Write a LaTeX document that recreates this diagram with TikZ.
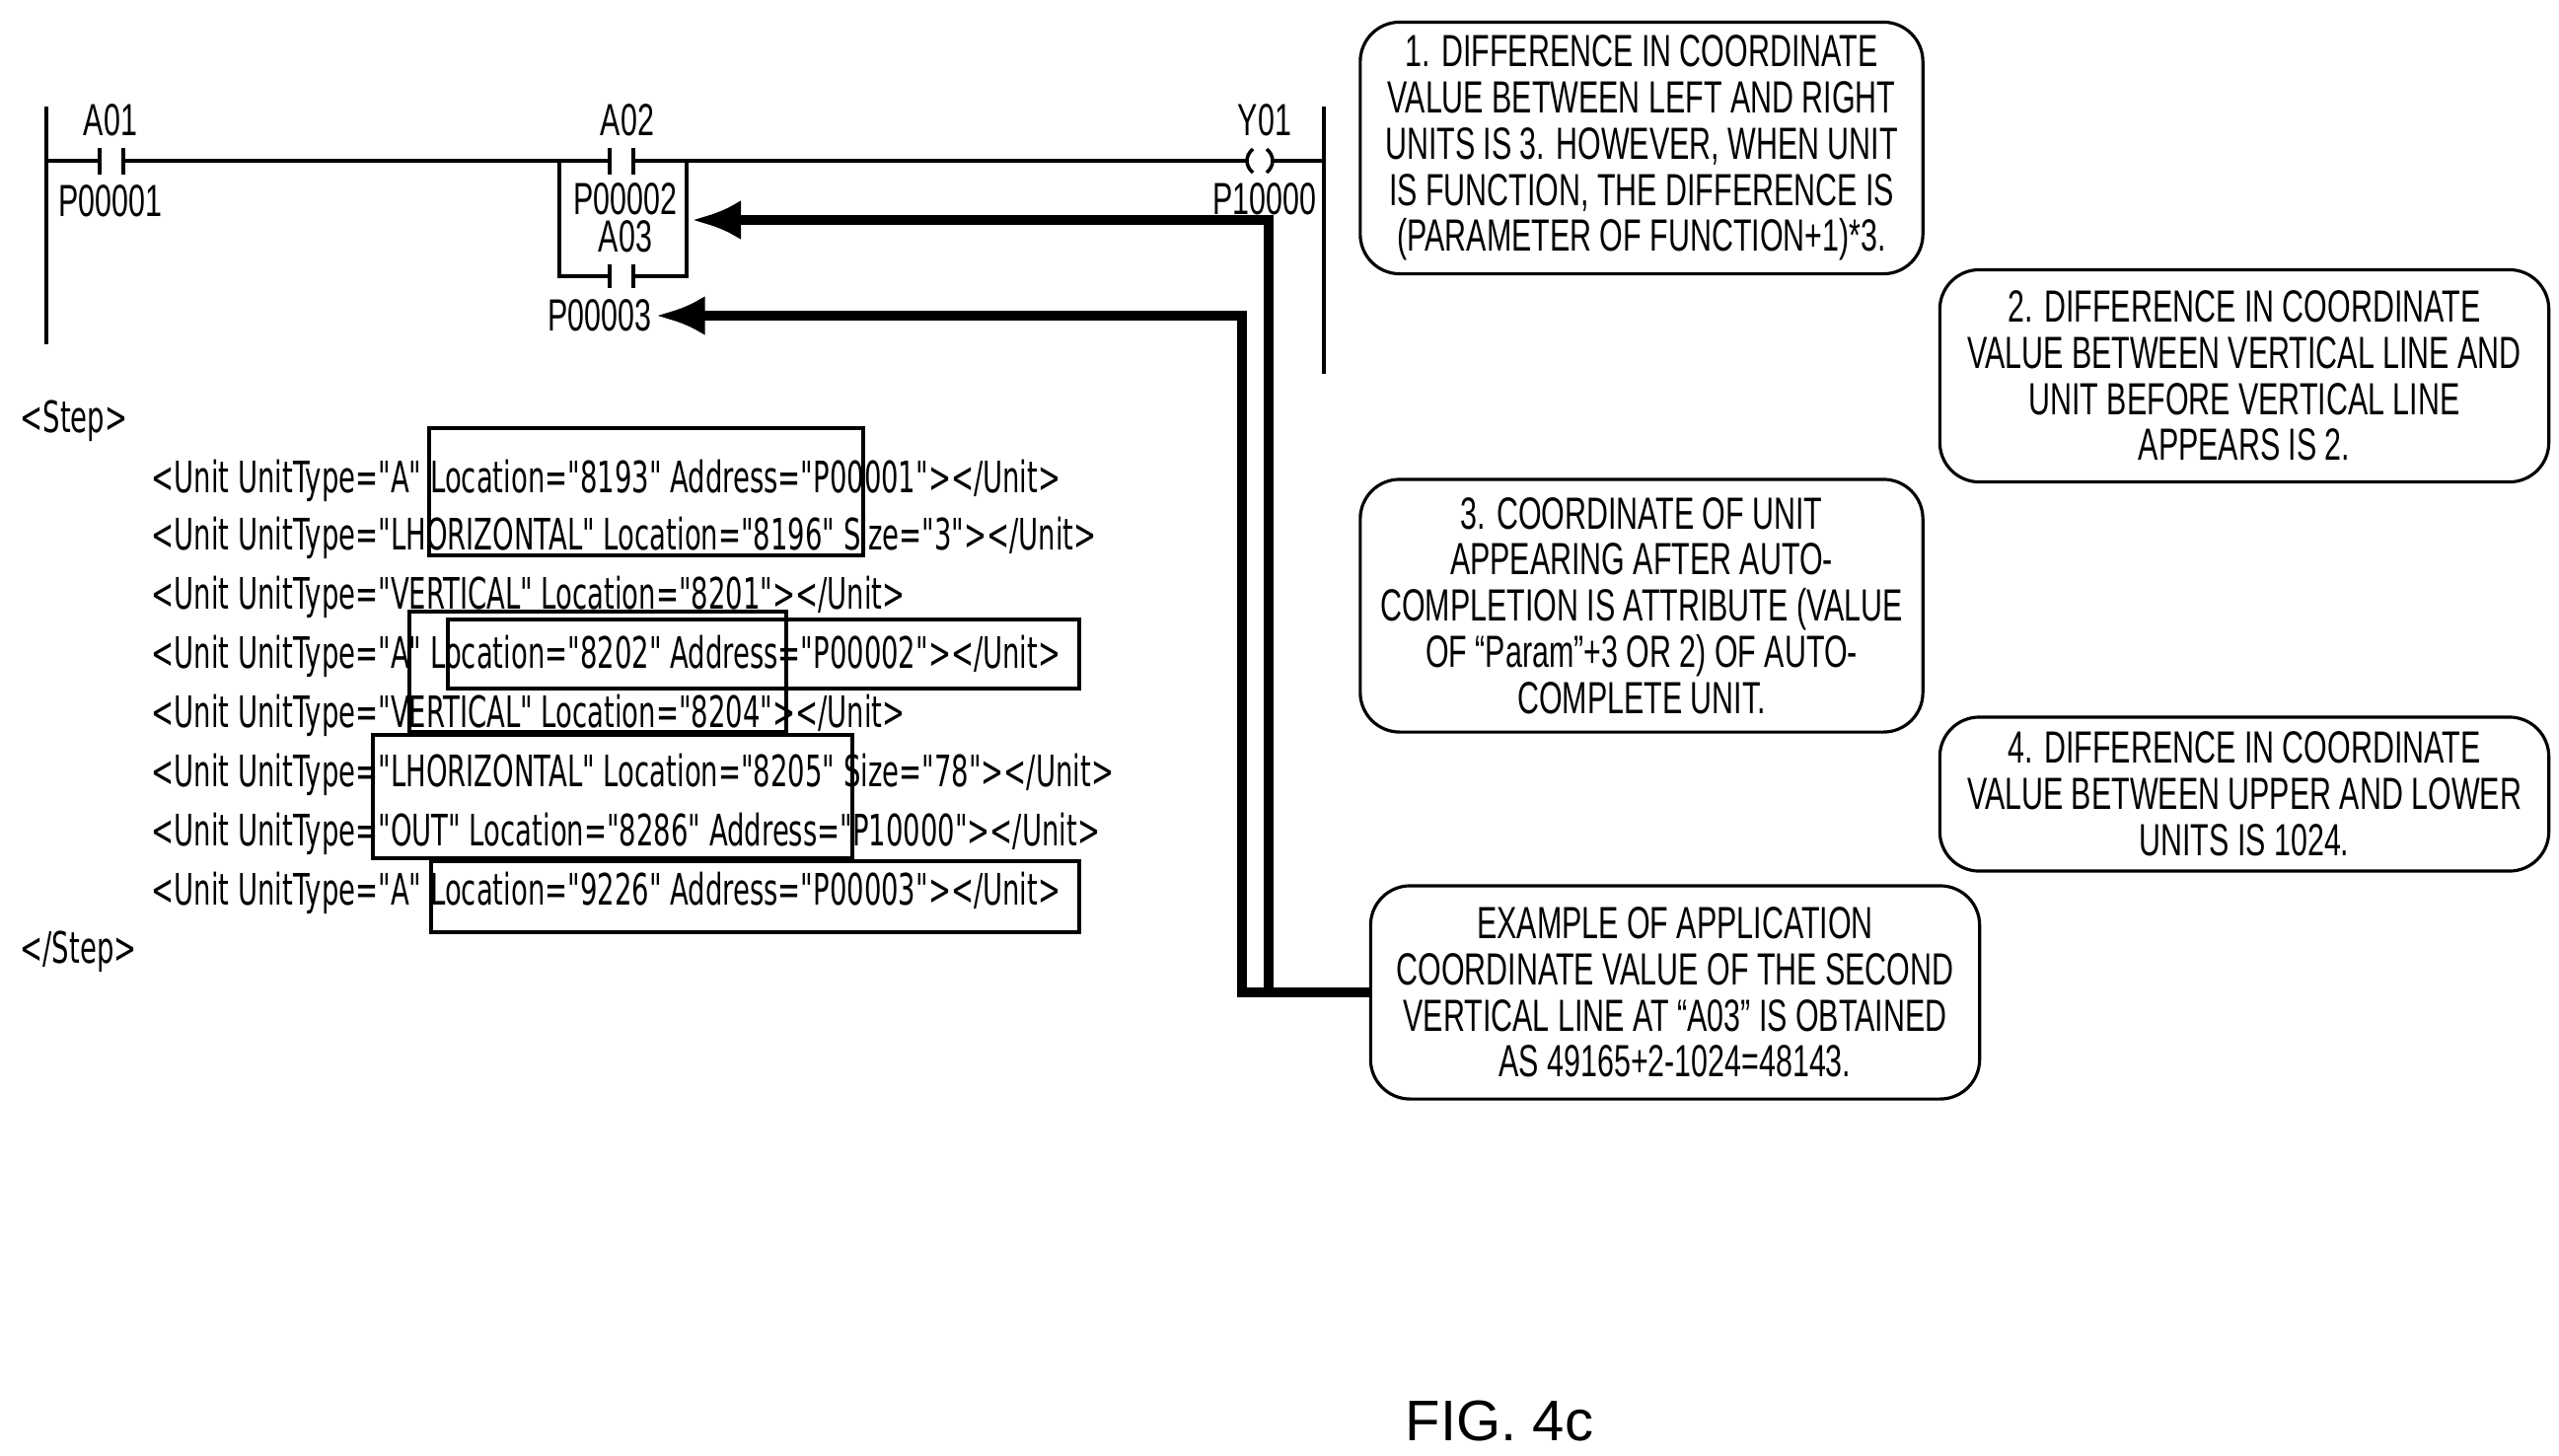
\documentclass[tikz,border=0pt]{standalone}
\usepackage{fontspec}
\setmainfont{Liberation Sans}
\newfontfamily\narrowfont[FakeStretch=0.665]{Liberation Sans}
\newfontfamily\codefont[FakeStretch=0.625]{DejaVu Sans}
\usetikzlibrary{arrows.meta}

\begin{document}
\begin{tikzpicture}[x=0.01cm,y=-0.01cm]
    \tikzstyle{note} = [draw, rectangle, rounded corners=4mm, line width=0.9pt, align=center, inner sep=2pt, font=\narrowfont\fontsize{13}{13.3}\selectfont];
    \tikzstyle{lbl} = [inner sep=1pt, font=\narrowfont\fontsize{13}{14}\selectfont];
    \tikzstyle{code} = [anchor=west, inner sep=0pt, font=\codefont\fontsize{12.5}{14}\selectfont];
    \tikzstyle{hilite} = [draw, line width=1.3pt];
    \tikzstyle{line} = [draw, line width=3pt, -{Latex[length=5mm,width=4mm]}];
    \useasboundingbox (0,0) rectangle (2594,1475);
    % rails and rung
    \draw[line width=1pt] (47,108) -- (47,349);
    \draw[line width=1pt] (1342,108) -- (1342,379);
    \draw[line width=1pt] (47,163) -- (101,163) (125,163) -- (618,163) (642,163) -- (1266,163) (1288,163) -- (1342,163);
    \draw[line width=1pt] (101,150) -- (101,177) (125,150) -- (125,177);
    \draw[line width=1pt] (618,150) -- (618,177) (642,150) -- (642,177);
    \draw[line width=1pt] (1270,151) .. controls (1262,158) and (1262,168) .. (1270,175);
    \draw[line width=1pt] (1284,151) .. controls (1292,158) and (1292,168) .. (1284,175);
    % parallel branch
    \draw[line width=1pt] (567,163) -- (567,280) -- (618,280) (642,280) -- (696,280) -- (696,163);
    \draw[line width=1pt] (618,268) -- (618,292) (642,268) -- (642,292);
    \node[lbl] (a01) at (112,122) {A01};
    \node[lbl] (p1) at (112,204) {P00001};
    \node[lbl] (a02) at (636,122) {A02};
    \node[lbl] (p2) at (634,202) {P00002};
    \node[lbl] (a03) at (634,240) {A03};
    \node[lbl] (p3) at (608,320) {P00003};
    \node[lbl] (y01) at (1282,122) {Y01};
    \node[lbl] (p10) at (1282,202) {P10000};
    \coordinate (t2) at (701,223);
    % notes
    \node[note, minimum width=5.7cm, minimum height=2.55cm] (n1) at (1664,150) {1. DIFFERENCE IN COORDINATE\\VALUE BETWEEN LEFT AND RIGHT\\UNITS IS 3. HOWEVER, WHEN UNIT\\IS FUNCTION, THE DIFFERENCE IS\\(PARAMETER OF FUNCTION+1)*3.};
    \node[note, minimum width=6.17cm, minimum height=2.15cm] (n2) at (2275,381) {2. DIFFERENCE IN COORDINATE\\VALUE BETWEEN VERTICAL LINE AND\\UNIT BEFORE VERTICAL LINE\\APPEARS IS 2.};
    \node[note, minimum width=5.7cm, minimum height=2.56cm] (n3) at (1664,614) {3. COORDINATE OF UNIT\\APPEARING AFTER AUTO-\\COMPLETION IS ATTRIBUTE (VALUE\\OF “Param”+3 OR 2) OF AUTO-\\COMPLETE UNIT.};
    \node[note, minimum width=6.17cm, minimum height=1.56cm] (n4) at (2275,805) {4. DIFFERENCE IN COORDINATE\\VALUE BETWEEN UPPER AND LOWER\\UNITS IS 1024.};
    \node[note, minimum width=6.17cm, minimum height=2.16cm] (ex) at (1698,1006) {EXAMPLE OF APPLICATION\\COORDINATE VALUE OF THE SECOND\\VERTICAL LINE AT “A03” IS OBTAINED\\AS 49165+2-1024=48143.};
    % code listing
    \node[code] (s0) at (20,427) {<Step>};
    \node[code] (c1) at (153,487) {<Unit UnitType="A" Location="8193" Address="P00001"></Unit>};
    \node[code] (c2) at (153,545) {<Unit UnitType="LHORIZONTAL" Location="8196" Size="3"></Unit>};
    \node[code] (c3) at (153,605) {<Unit UnitType="VERTICAL" Location="8201"></Unit>};
    \node[code] (c4) at (153,665) {<Unit UnitType="A" Location="8202" Address="P00002"></Unit>};
    \node[code] (c5) at (153,725) {<Unit UnitType="VERTICAL" Location="8204"></Unit>};
    \node[code] (c6) at (153,785) {<Unit UnitType="LHORIZONTAL" Location="8205" Size="78"></Unit>};
    \node[code] (c7) at (153,845) {<Unit UnitType="OUT" Location="8286" Address="P10000"></Unit>};
    \node[code] (c8) at (153,905) {<Unit UnitType="A" Location="9226" Address="P00003"></Unit>};
    \node[code] (s9) at (20,965) {</Step>};
    \draw[hilite] (435,434) rectangle (875,563);
    \draw[hilite] (415,620) rectangle (797,742);
    \draw[hilite] (454,628) rectangle (1094,698);
    \draw[hilite] (378,745) rectangle (864,870);
    \draw[hilite] (437,873) rectangle (1094,945);
    % pointers
    \coordinate (k1) at (1286,223);
    \coordinate (k2) at (1259,320);
    \path[line] (ex.west) -| (k1) -- (t2);
    \path[line] (ex.west) -| (k2) -- (p3.east);
    \node[font=\fontsize{16.5}{18}\selectfont] (fig) at (1520,1440) {FIG. 4c};
\end{tikzpicture}
\end{document}
